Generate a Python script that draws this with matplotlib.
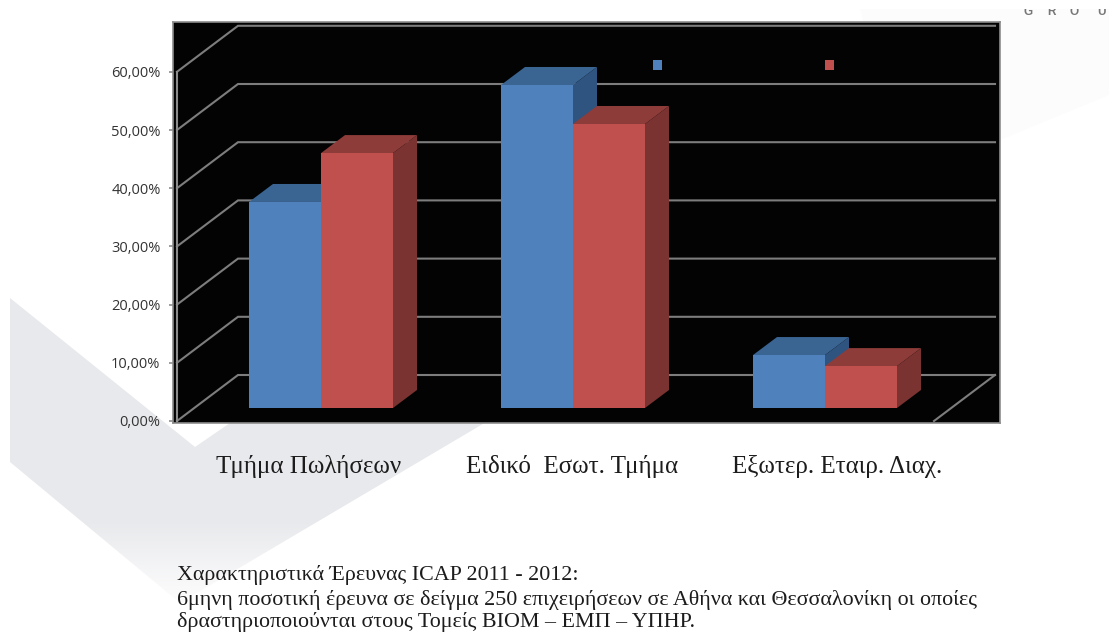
import numpy as np
import matplotlib
matplotlib.use('Agg')
import matplotlib.pyplot as plt
from matplotlib.patches import Polygon, Rectangle

categories = ['Τμήμα Πωλήσεων', 'Ειδικό  Εσωτ. Τμήμα', 'Εξωτερ. Εταιρ. Διαχ.']
blue_values = [35.4, 55.5, 9.1]
red_values = [43.8, 48.8, 7.2]
y_ticks = [0, 10, 20, 30, 40, 50, 60]
y_tick_labels = ['0,00%', '10,00%', '20,00%', '30,00%', '40,00%', '50,00%', '60,00%']
notes = [
    'Χαρακτηριστικά Έρευνας ICAP 2011 - 2012:',
    '6μηνη ποσοτική έρευνα σε δείγμα 250 επιχειρήσεων σε Αθήνα και Θεσσαλονίκη οι οποίες',
    'δραστηριοποιούνται στους Τομείς ΒΙΟΜ – ΕΜΠ – ΥΠΗΡ.',
]

W, H = 1109, 637
SERIF = 'Liberation Serif'

fig = plt.figure(figsize=(W / 100, H / 100), dpi=100, facecolor='white')

# page background, drawn in pixel coordinates
bg = fig.add_axes([0, 0, 1, 1])
bg.set_xlim(0, W)
bg.set_ylim(H, 0)
bg.axis('off')

fade = np.ones((H, W, 4))
fade[:, :, :3] = np.array([232, 233, 236]) / 255
fade[:, :, 3] = np.interp(np.arange(H), [0, 520, 610], [1, 1, 0])[:, None]
chevron = Polygon([(10, 298), (195, 447), (300, 375), (520, 375), (520, 402),
                   (180, 603), (10, 462)], closed=True, fc='none', ec='none')
bg.add_patch(chevron)
im = bg.imshow(fade, extent=(0, W, H, 0), aspect='auto', zorder=1)
im.set_clip_path(chevron)
bg.add_patch(Polygon([(860, 9), (1109, 9), (1109, 95), (1000, 140), (900, 150)],
                     closed=True, fc='#fcfcfd', ec='none', zorder=1))

for x, letter in zip([1028, 1051, 1074, 1101], 'GROU'):
    bg.text(x, 12, letter, ha='center', va='center', fontsize=8.5, color='#777777',
            family='Liberation Sans', fontweight='bold', zorder=2)
bg.add_patch(Rectangle((0, 0), W, 8.5, fc='white', ec='none', zorder=3))

for label, x in zip(categories, [309, 572, 837]):
    bg.text(x, 466, label, ha='center', va='center', fontsize=18, color='#1c1c1c',
            family=SERIF, zorder=4)
for line, y in zip(notes, [575, 600, 622]):
    bg.text(177, y, line, ha='left', va='center', fontsize=15.8, color='#1c1c1c',
            family=SERIF, zorder=4)

# chart area: x in categories, y in percent
ax_left, ax_right, ax_top, ax_bottom = 173, 1000, 22, 423
ax = fig.add_axes([ax_left / W, 1 - ax_bottom / H,
                   (ax_right - ax_left) / W, (ax_bottom - ax_top) / H])
cat_px = 252
pct_px = 5.82
ax.set_xlim((ax_left - 321) / cat_px, (ax_right - 321) / cat_px)
ax.set_ylim((421 - ax_bottom) / pct_px, (421 - ax_top) / pct_px)
ax.set_facecolor('#030303')
for side in ax.spines.values():
    side.set_color('#8c8c8c')
    side.set_linewidth(1.2)

bar_w = 72 / cat_px
base = 13 / pct_px
# depth of the floor and of the bars
wall_dx, wall_dy = 61 / cat_px, 46 / pct_px
bar_dx, bar_dy = 24 / cat_px, 18 / pct_px
wall_x = (177 - 321) / cat_px
end_x = (934 - 321) / cat_px
grid_color = '#7d7d7d'

for t in y_ticks:
    ax.plot([wall_x, wall_x + wall_dx, end_x + wall_dx],
            [t, t + wall_dy, t + wall_dy], color=grid_color, lw=1.5, zorder=1,
            solid_joinstyle='miter')
ax.plot([end_x, end_x + wall_dx], [0, wall_dy], color=grid_color, lw=1.5, zorder=1)
ax.plot([wall_x, wall_x], [0, 60], color='#8c8c8c', lw=1.5, zorder=1)


def draw_bar(x, value, front, top, side):
    y0, y1 = base, base + value
    ax.add_patch(Polygon([(x, y1), (x + bar_dx, y1 + bar_dy),
                          (x + bar_w + bar_dx, y1 + bar_dy), (x + bar_w, y1)],
                         closed=True, fc=top, ec='none', zorder=2))
    ax.add_patch(Polygon([(x + bar_w, y0), (x + bar_w + bar_dx, y0 + bar_dy),
                          (x + bar_w + bar_dx, y1 + bar_dy), (x + bar_w, y1)],
                         closed=True, fc=side, ec='none', zorder=2))
    ax.bar(x, value, width=bar_w, bottom=base, align='edge', color=front, zorder=2)


for i in range(len(categories)):
    draw_bar(i - bar_w, blue_values[i], '#4f81bd', '#3a6492', '#2f547f')
    draw_bar(i, red_values[i], '#c0504d', '#8e3c39', '#7a3331')

ax.set_xticks([])
ax.set_yticks(y_ticks)
ax.set_yticklabels(y_tick_labels, family='Open Sans', fontsize=10.5, color='#333333')
ax.tick_params(axis='y', length=3, width=1.2, color='#8c8c8c', pad=6)

# legend swatches sit inside the plot area
for px, color in zip([657, 829], ['#4f81bd', '#c0504d']):
    ax.add_patch(Rectangle(((px - 4.5 - ax_left) / (ax_right - ax_left),
                            1 - (69.5 - ax_top) / (ax_bottom - ax_top)),
                           9 / (ax_right - ax_left), 9 / (ax_bottom - ax_top),
                           transform=ax.transAxes, fc=color, ec='none', zorder=3))

fig.savefig('out.png', dpi=100)
